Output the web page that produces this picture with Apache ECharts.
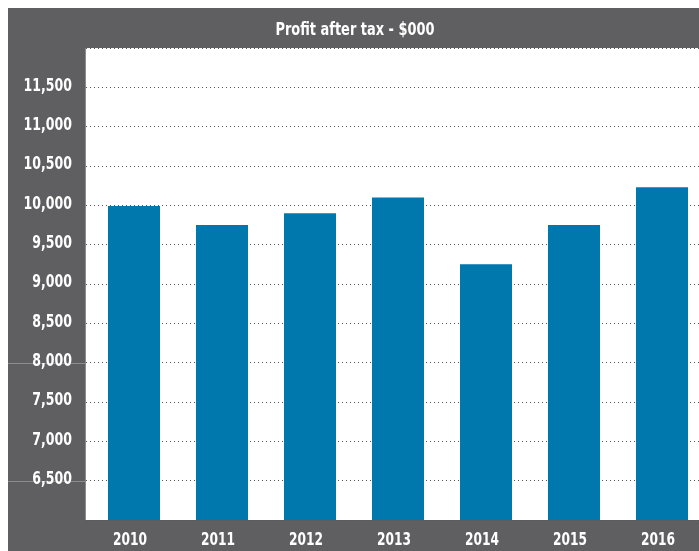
<!DOCTYPE html>
<html>
<head>
<meta charset="utf-8">
<script src="https://cdn.jsdelivr.net/npm/echarts@6/dist/echarts.min.js"></script>
<style>
  html, body { margin: 0; padding: 0; background: #ffffff; }
  #chart { width: 699px; height: 551px; }
</style>
</head>
<body>
<div id="chart"></div>
<script>
// Profit after tax, in thousands of dollars
const years = ['2010', '2011', '2012', '2013', '2014', '2015', '2016'];
const profit = [9990, 9750, 9900, 10100, 9250, 9750, 10230];
const yTicks = [6500, 7000, 7500, 8000, 8500, 9000, 9500, 10000, 10500, 11000, 11500];
const yMin = 6000, yMax = 12000, yStep = 500;
const accentLevels = [6500, 8000];
const titleText = 'Profit after tax - $000';

const FONT = '"DejaVu Sans Condensed", "Liberation Sans", sans-serif';
const PANEL = '#5f5f61';
const BAR = '#0077ad';

const chart = echarts.init(document.getElementById('chart'), null, { renderer: 'canvas' });

const fmt = v => v.toLocaleString('en-US');

const frame = [
  { type: 'rect', left: 8, top: 8, shape: { width: 691, height: 543 }, style: { fill: PANEL }, z: -10 },
  { type: 'rect', left: 86, top: 48, shape: { width: 613, height: 472 }, style: { fill: '#ffffff' }, z: -9 },
  { type: 'line', shape: { x1: 85.5, y1: 48, x2: 85.5, y2: 520 }, style: { stroke: '#8c8c8e', lineWidth: 1 }, z: -8 }
];

chart.setOption({
  animation: false,
  backgroundColor: '#ffffff',
  graphic: frame,
  grid: [
    // frame for gridlines and category labels (runs past the right edge)
    { left: 86, width: 616, top: 48, bottom: 31, outerBoundsMode: 'none' },
    // frame for the bars, sitting a few pixels right of the labels
    { left: 90, width: 616, top: 48, bottom: 31, outerBoundsMode: 'none' }
  ],
  xAxis: [
    {
      type: 'category', gridIndex: 0, data: years,
      axisLine: { show: false }, axisTick: { show: false }, axisLabel: { show: false }
    },
    {
      type: 'category', gridIndex: 1, data: years,
      axisLine: { show: false }, axisTick: { show: false }, axisLabel: { show: false }
    }
  ],
  yAxis: [
    {
      type: 'value', gridIndex: 0, min: yMin, max: yMax, interval: yStep,
      axisLine: { show: false }, axisTick: { show: false }, axisLabel: { show: false },
      splitLine: {
        show: true,
        interval: (i, v) => yTicks.includes(Number(v)),
        lineStyle: { color: '#555555', width: 1, type: [1, 3] }
      }
    },
    {
      type: 'value', gridIndex: 1, min: yMin, max: yMax, interval: yStep,
      show: false, splitLine: { show: false }
    }
  ],
  series: [
    {
      type: 'bar',
      xAxisIndex: 1, yAxisIndex: 1,
      data: profit,
      barWidth: 52,
      itemStyle: { color: BAR },
      z: 5
    }
  ]
});

// Condensed bold lettering, squeezed horizontally to a narrow face
function label(text, x, y, align, size, squeeze) {
  return {
    type: 'text', x: x, y: y, scaleX: squeeze, z: 10,
    style: {
      text: text, align: align, verticalAlign: 'middle',
      fill: '#ffffff', font: 'bold ' + size + 'px ' + FONT
    }
  };
}

const texts = [];
texts.push(label(titleText, 355, 30, 'center', 18, 0.8));
yTicks.forEach(v => {
  const py = chart.convertToPixel({ yAxisIndex: 0 }, v);
  texts.push(label(fmt(v), 72, py - 1, 'right', 17, 0.82));
});
years.forEach(c => {
  const px = chart.convertToPixel({ xAxisIndex: 0 }, c);
  texts.push(label(c, px, 541, 'center', 17, 0.8));
});

// pale rules across the left panel at a couple of tick levels
const rules = accentLevels.map(v => {
  const y = Math.round(chart.convertToPixel({ yAxisIndex: 0 }, v)) + 0.5;
  return { type: 'line', shape: { x1: 8, y1: y, x2: 86, y2: y }, style: { stroke: '#8c8c8e', lineWidth: 1 }, z: -7 };
});

chart.setOption({ graphic: frame.concat(rules, texts) });
</script>
</body>
</html>
